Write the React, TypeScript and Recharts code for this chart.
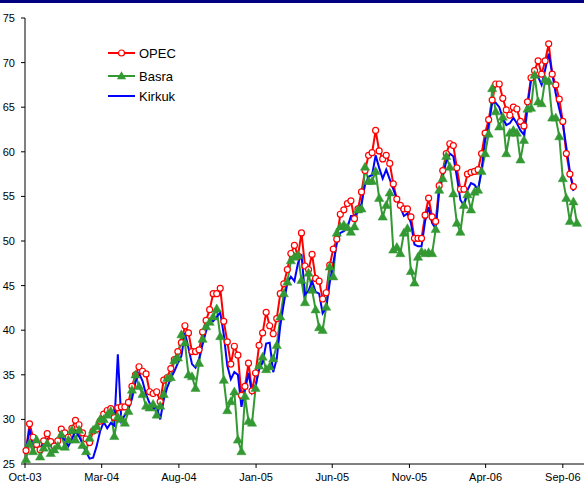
import React from 'react';
import { LineChart, Line, XAxis, YAxis } from 'recharts';

const startDate = '2003-10-03';

const opec: (number | null)[] = [
  26.5, 29.5, 28.0, 27.2, 26.6, 27.6, 28.4, 27.5, 27.0, 27.6,
  28.9, 28.5, 28.0, 29.0, 29.9, 29.4, 28.5, 27.8, 27.4, 28.7,
  28.9, 29.8, 30.6, 31.0, 31.2, 30.2, 31.3, 31.4, 31.4, 31.9,
  33.7, 35.0, 35.9, 35.4, 35.1, 33.1, 32.9, 33.1, 32.0, 34.4,
  34.7, 35.7, 36.7, 37.6, 38.6, 40.5, 39.7, 37.6, 37.6, 37.8,
  39.8, 41.1, 42.3, 44.1, 44.1, 44.7, 41.0, 38.7, 36.2, 38.2,
  37.2, 32.7, 33.7, 36.3, 33.2, 35.2, 38.3, 39.7, 42.0, 40.5,
  39.6, 41.3, 44.1, 45.2, 46.8, 48.6, 49.5, 48.3, 50.9, 47.2,
  46.8, 48.5, 45.8, 45.5, 43.5, 44.2, 47.3, 49.1, 50.2, 53.0,
  53.5, 54.2, 54.5, 52.5, 53.6, 55.5, 57.9, 59.6, 59.9, 62.4,
  60.1, 59.2, 59.6, 58.7, 56.4, 54.7, 54.0, 53.6, 53.6, 52.7,
  50.3, 50.3, 50.3, 52.9, 54.8, 52.7, 52.2, 56.2, 57.9, 59.8,
  60.9, 60.7, 58.2, 55.8, 55.8, 57.5, 57.7, 57.8, 58.0, 59.8,
  62.1, 63.6, 65.8, 67.6, 67.6, 66.0, 64.7, 64.1, 65.0, 64.8,
  63.4, 62.9, 65.6, 68.3, 69.1, 70.2, 68.7, 70.2, 72.1, 68.7,
  67.5, 65.9, 63.4, 59.8, 57.5, 56.1, null,
];

const basra: (number | null)[] = [
  25.5, 27.3, 26.4, 27.7, 25.8, 26.8, 27.3, 26.2, 26.6, 27.0,
  28.3, 26.9, 27.7, 28.8, 27.7, 28.8, 27.1, 26.4, 27.9, 28.8,
  29.2, 30.0, 30.0, 30.5, 30.9, 28.1, 30.3, 30.0, 29.6, 30.9,
  33.3, 35.0, 33.7, 32.8, 31.5, 31.3, 31.7, 30.5, 31.5, 32.8,
  34.6, 34.7, 36.6, 36.9, 39.5, 38.6, 35.0, 34.8, 33.5, 36.3,
  39.0, 40.4, 40.9, 41.5, 42.4, 39.3, 34.4, 31.0, 32.0, 33.1,
  27.7, 26.4, 32.6, 29.8, 29.6, 33.5, 36.0, 37.0, 35.6, 35.9,
  36.8, 38.3, 41.5, 44.1, 45.4, 47.8, 48.2, 48.4, 45.6, 43.1,
  46.4, 44.5, 42.3, 40.3, 40.0, 42.6, 47.1, 46.0, 50.9, 51.6,
  51.8, 51.5, 51.0, 51.6, 53.5, 53.6, 58.3, 56.7, 56.7, 57.8,
  54.8, 52.7, 54.0, 55.4, 49.0, 49.3, 48.6, 50.9, 51.4, 46.6,
  45.3, 48.2, 48.8, 48.6, 48.7, 48.6, 51.3, 55.7, 57.0, 59.5,
  58.3, 55.3, 52.0, 51.0, 54.0, 55.2, 53.5, 55.5, 55.7, 57.8,
  59.8, 62.0, 67.1, 64.5, 62.8, 63.9, 59.8, 62.1, 62.4, 62.1,
  59.1, 61.3, 64.8, 64.9, 68.6, 65.6, 65.4, 68.1, 67.9, 63.8,
  63.8, 61.7, 57.0, 54.8, 52.2, 54.4, 52.0,
];

const kirkuk: (number | null)[] = [
  26.6, 28.9, 27.0, 26.9, 26.8, 27.3, 27.8, 27.0, 27.0, 27.6,
  28.1, 27.7, 27.0, 27.8, 28.7, 28.1, 27.3, 26.4, 25.6, 25.7,
  27.0, 28.7, 29.7, 29.0, 29.6, 29.3, 37.3, 29.8, 30.5, 31.2,
  32.3, 34.2, 35.2, 34.3, 32.8, 31.8, 31.2, 31.4, 30.0, 32.2,
  33.6, 34.6, 35.4, 36.3, 37.1, 39.7, 38.0, 36.2, 35.8, 36.8,
  38.4, 39.9, 41.2, 41.0, 41.5, 42.0, 39.5, 36.0, 34.5, 35.3,
  35.0, 31.4, 33.3, 35.2, 33.0, 33.8, 35.6, 36.4, 38.5, 38.6,
  35.3, 36.8, 40.5, 43.0, 45.3, 46.0, 45.5, 47.5, 48.5, 44.0,
  44.4, 45.5, 44.3, 44.1, 41.9, 42.5, 45.3, 47.5, 49.7, 50.9,
  51.1, 51.5, 52.8, 52.8, 53.3, 54.2, 56.3, 57.2, 57.4, 59.6,
  58.2, 57.0, 58.0, 56.9, 55.8, 54.7, 53.8, 52.8, 53.1, 52.0,
  49.6, 49.4, 49.4, 52.2, 53.8, 52.0, 51.4, 55.7, 57.3, 58.9,
  59.8, 59.5, 57.2, 54.6, 54.0, 55.7, 56.5, 56.3, 55.7, 58.0,
  61.3, 63.0, 65.5, 65.5, 65.0, 63.8, 63.0, 63.2, 63.8, 63.2,
  62.4, 61.9, 65.1, 68.0, 68.8, 68.4, 67.5, 69.2, 71.0, 68.8,
  66.5, 64.8, 63.2, 60.5, 57.8, 55.6, null,
];

const tickDates = [
  '2003-10-01', '2004-03-01', '2004-08-01', '2005-01-01',
  '2005-06-01', '2005-11-01', '2006-04-01', '2006-09-01',
];
const tickLabels = ['Oct-03', 'Mar-04', 'Aug-04', 'Jan-05', 'Jun-05', 'Nov-05', 'Apr-06', 'Sep-06'];
const yTicks = [25, 30, 35, 40, 45, 50, 55, 60, 65, 70, 75];

const DAY = 86400000;
const t0 = Date.parse(startDate);
const dayOf = (s: string) => Math.round((Date.parse(s) - t0) / DAY);
const n = Math.max(opec.length, basra.length, kirkuk.length);
const data = Array.from({ length: n }, (_, i) => ({
  day: i * 7,
  opec: opec[i] ?? null,
  basra: basra[i] ?? null,
  kirkuk: kirkuk[i] ?? null,
}));
const xTicks = tickDates.map(dayOf);
const labelByDay = new Map<number, string>(xTicks.map((d, i) => [d, tickLabels[i]]));

const FONT = '"Liberation Sans", Arial, sans-serif';
const RED = '#ff0000';
const GREEN = '#339933';
const BLUE = '#0000ff';

const CircleDot = (props: any) => {
  const { cx, cy, payload, index } = props;
  if (cx == null || cy == null || payload?.opec == null) return <g key={`c${index}`} />;
  return <circle key={`c${index}`} cx={cx} cy={cy} r={3} fill="#ffffff" stroke={RED} strokeWidth={1.2} />;
};

const TriDot = (props: any) => {
  const { cx, cy, payload, index } = props;
  if (cx == null || cy == null || payload?.basra == null) return <g key={`t${index}`} />;
  const w = 4.6;
  const h = 8;
  return (
    <polygon
      key={`t${index}`}
      points={`${cx},${cy - h * 0.6} ${cx - w},${cy + h * 0.4} ${cx + w},${cy + h * 0.4}`}
      fill={GREEN}
      stroke={GREEN}
      strokeWidth={0.5}
    />
  );
};

const legendItems = [
  { name: 'OPEC', color: RED, marker: 'circle', y: 53 },
  { name: 'Basra', color: GREEN, marker: 'triangle', y: 76 },
  { name: 'Kirkuk', color: BLUE, marker: 'none', y: 96 },
];

const LegendBox = () => (
  <div style={{ position: 'absolute', left: 0, top: 0, width: 200, height: 120, pointerEvents: 'none' }}>
    {legendItems.map((it) => (
      <div
        key={it.name}
        style={{
          position: 'absolute',
          left: 108,
          top: it.y - 8,
          height: 16,
          display: 'flex',
          alignItems: 'center',
          fontFamily: FONT,
          fontSize: 13,
          color: '#000',
          whiteSpace: 'nowrap',
        }}
      >
        <svg width={28} height={16} style={{ display: 'block' }}>
          <line x1={0} y1={8} x2={27} y2={8} stroke={it.color} strokeWidth={2} />
          {it.marker === 'circle' && (
            <circle cx={13.5} cy={8} r={3} fill="#fff" stroke={it.color} strokeWidth={1.2} />
          )}
          {it.marker === 'triangle' && (
            <polygon points="13.5,3.2 8.9,11.2 18.1,11.2" fill={it.color} />
          )}
        </svg>
        <span style={{ marginLeft: 3 }}>{it.name}</span>
      </div>
    ))}
  </div>
);

export default function App() {
  return (
    <div style={{ position: 'absolute', left: 0, top: 0, width: 584, height: 489, background: '#fff' }}>
      <LineChart
        width={584}
        height={489}
        data={data}
        margin={{ top: 18, right: 0, bottom: 0, left: 0 }}
      >
        <XAxis
          dataKey="day"
          type="number"
          domain={[-2, 1106]}
          ticks={xTicks}
          interval={0}
          tickFormatter={(v: number) => labelByDay.get(v) ?? ''}
          height={25}
          tickSize={4}
          tickMargin={5}
          axisLine={{ stroke: '#000', strokeWidth: 1 }}
          tickLine={{ stroke: '#000' }}
          tick={{ fill: '#000', fontSize: 11, fontFamily: FONT }}
        />
        <YAxis
          type="number"
          domain={[25, 75]}
          ticks={yTicks}
          interval={0}
          width={25}
          tickSize={4}
          tickMargin={6}
          axisLine={{ stroke: '#000', strokeWidth: 1 }}
          tickLine={{ stroke: '#000' }}
          tick={{ fill: '#000', fontSize: 11, fontFamily: FONT }}
        />
        <Line
          dataKey="opec"
          name="OPEC"
          stroke={RED}
          strokeWidth={2}
          dot={CircleDot}
          activeDot={false}
          isAnimationActive={false}
        />
        <Line
          dataKey="basra"
          name="Basra"
          stroke={GREEN}
          strokeWidth={2}
          dot={TriDot}
          activeDot={false}
          isAnimationActive={false}
        />
        <Line
          dataKey="kirkuk"
          name="Kirkuk"
          stroke={BLUE}
          strokeWidth={2}
          dot={false}
          activeDot={false}
          isAnimationActive={false}
        />
      </LineChart>
      <LegendBox />
      <div style={{ position: 'absolute', left: 0, top: 0, width: 584, height: 3, background: '#000080' }} />
    </div>
  );
}
